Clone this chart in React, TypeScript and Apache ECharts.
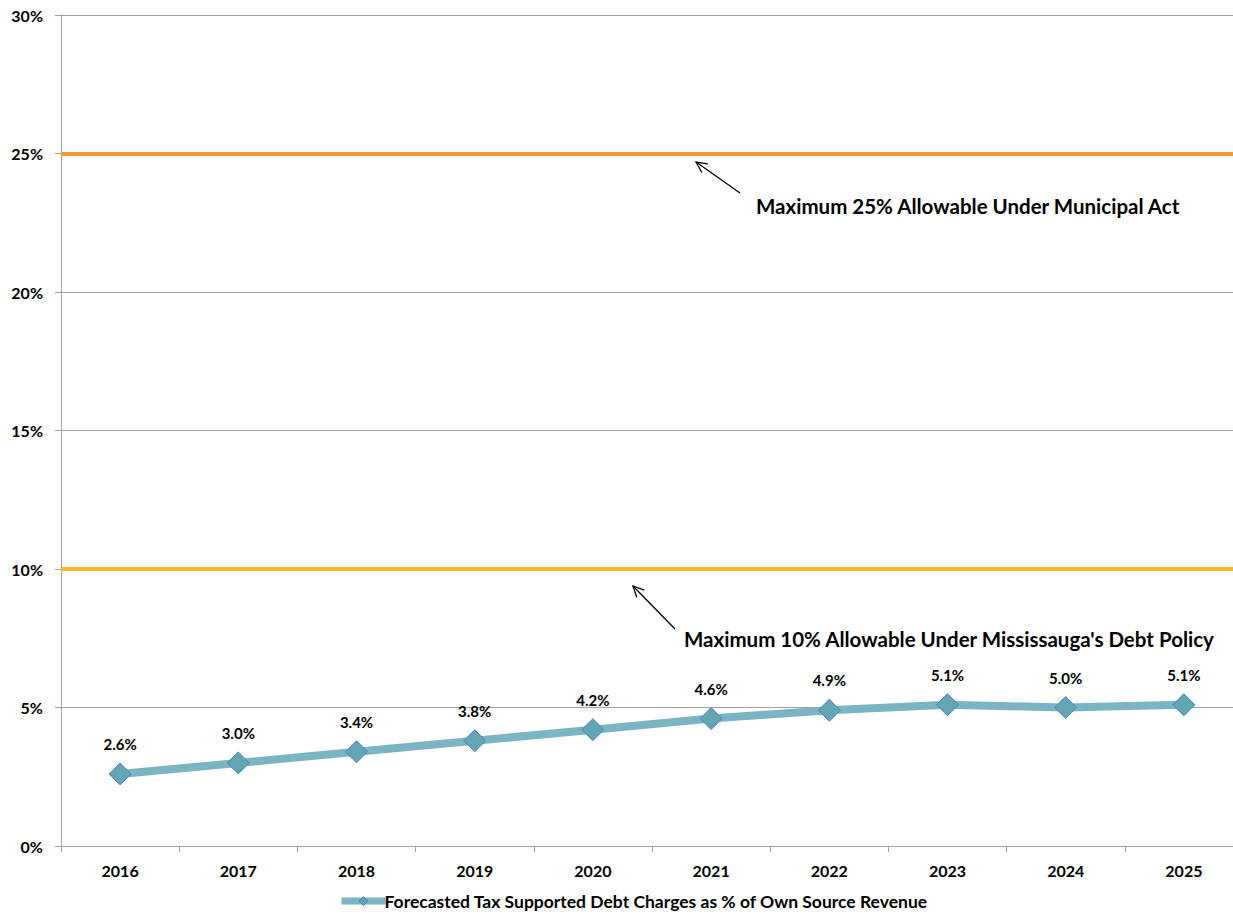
import React, { useEffect, useRef } from "react";
import * as echarts from "echarts";

const years = ["2016", "2017", "2018", "2019", "2020", "2021", "2022", "2023", "2024", "2025"];
const debtChargesPct = [2.6, 3.0, 3.4, 3.8, 4.2, 4.6, 4.9, 5.1, 5.0, 5.1];
const municipalActLimit = 25;
const debtPolicyLimit = 10;
const seriesName = "Forecasted Tax Supported Debt Charges as % of Own Source Revenue";
const municipalActNote = "Maximum 25% Allowable Under Municipal Act";
const debtPolicyNote = "Maximum 10% Allowable Under Mississauga's Debt Policy";

const FONT = "Lato, 'Open Sans', sans-serif";

function arrow(x1: number, y1: number, x2: number, y2: number) {
  // shaft from (x1,y1) to the head at (x2,y2), with an open V head
  const ang = Math.atan2(y1 - y2, x1 - x2);
  const len = 12;
  const spread = 0.45;
  const p1 = [x2 + len * Math.cos(ang + spread), y2 + len * Math.sin(ang + spread)];
  const p2 = [x2 + len * Math.cos(ang - spread), y2 + len * Math.sin(ang - spread)];
  return [
    { type: "line", shape: { x1, y1, x2, y2 }, style: { stroke: "#000", lineWidth: 1.3 } },
    {
      type: "polyline",
      shape: { points: [p1, [x2, y2], p2] },
      style: { stroke: "#000", lineWidth: 1.3, fill: null },
    },
  ];
}

export default function App() {
  const ref = useRef<HTMLDivElement>(null);

  useEffect(() => {
    if (!ref.current) return;
    const chart = echarts.init(ref.current, undefined, { renderer: "svg" });
    chart.setOption({
      animation: false,
      backgroundColor: "#fff",
      textStyle: { fontFamily: FONT },
      grid: { left: 61, top: 15, bottom: 71, right: 0 },
      legend: {
        bottom: 2,
        left: 333,
        itemWidth: 44,
        itemHeight: 11,
        itemGap: 4,
        lineStyle: { width: 7, color: "#7bb5c3" },
        itemStyle: { color: "#62a5b5", borderColor: "#4f81bd", borderWidth: 1 },
        textStyle: { fontFamily: FONT, fontWeight: "bold", fontSize: 17.5, color: "#000", padding: [0, 0, 0, -6] },
        data: [{ name: seriesName }],
      },
      xAxis: {
        type: "category",
        data: years,
        boundaryGap: true,
        axisLine: { lineStyle: { color: "#a0a0a0", width: 1 } },
        axisTick: { show: true, length: 6, lineStyle: { color: "#a0a0a0" } },
        axisLabel: { fontFamily: FONT, fontWeight: "bold", fontSize: 16, color: "#000", margin: 16 },
      },
      yAxis: {
        type: "value",
        min: 0,
        max: 30,
        interval: 5,
        axisLine: { show: true, lineStyle: { color: "#a0a0a0", width: 1 } },
        axisTick: { show: true, length: 6, lineStyle: { color: "#a0a0a0" } },
        splitLine: { lineStyle: { color: "#a0a0a0", width: 1 } },
        axisLabel: {
          formatter: "{value}%",
          fontFamily: FONT,
          fontWeight: "bold",
          fontSize: 16,
          color: "#000",
          margin: 18,
        },
      },
      series: [
        {
          name: seriesName,
          type: "line",
          data: debtChargesPct,
          symbol: "diamond",
          symbolSize: 22,
          lineStyle: { color: "#7bb5c3", width: 8 },
          itemStyle: { color: "#62a5b5", borderColor: "#4f81bd", borderWidth: 1 },
          label: {
            show: true,
            position: "top",
            distance: 11,
            formatter: (p: any) => `${Number(p.value).toFixed(1)}%`,
            fontFamily: FONT,
            fontWeight: "bold",
            fontSize: 15,
            color: "#000",
          },
          markLine: {
            silent: true,
            symbol: "none",
            label: { show: false },
            data: [
              { yAxis: municipalActLimit, lineStyle: { color: "#f7982a", width: 4, type: "solid" } },
              { yAxis: debtPolicyLimit, lineStyle: { color: "#fcb928", width: 4, type: "solid" } },
            ],
          },
          z: 3,
        },
      ],
      graphic: [
        ...arrow(740, 193, 696, 162),
        ...arrow(675, 629, 633, 586),
        {
          type: "text",
          left: 756,
          top: 195,
          style: { text: municipalActNote, font: `bold 20.5px ${FONT}`, fill: "#000" },
        },
        {
          type: "text",
          left: 684,
          top: 628,
          style: { text: debtPolicyNote, font: `bold 20.5px ${FONT}`, fill: "#000" },
        },
      ],
    });
    return () => chart.dispose();
  }, []);

  return (
    <div style={{ position: "fixed", left: 0, top: 0, width: 1233, height: 917, overflow: "hidden", background: "#fff" }}>
      <div ref={ref} style={{ width: 1243, height: 917 }} />
    </div>
  );
}
